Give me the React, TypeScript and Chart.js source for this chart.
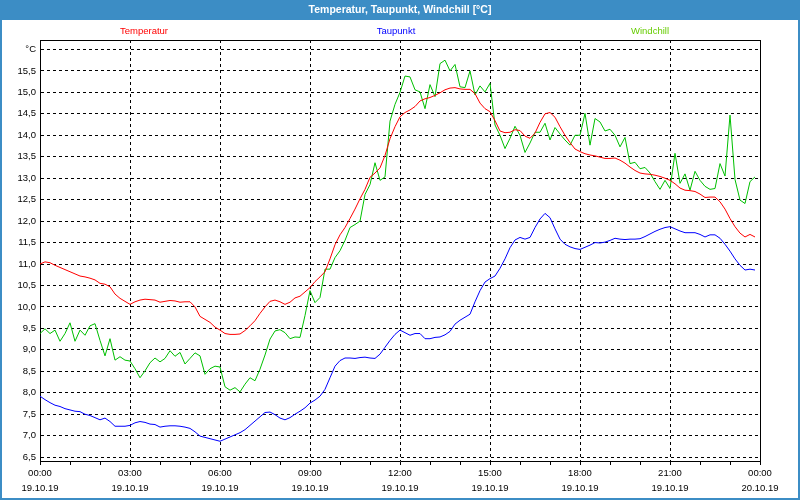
import React, { useEffect, useRef } from 'react';
import { Chart, registerables } from 'chart.js';

Chart.register(...registerables);

const TITLE = 'Temperatur, Taupunkt, Windchill [°C]';
const SERIES_NAMES = ['Temperatur', 'Taupunkt', 'Windchill'];
const SERIES_COLORS = ['#ff0000', '#0000ff', '#00c000'];
const LEGEND_TEXT_COLORS = ['#ff0000', '#0000ff', '#66cc00'];
const LEGEND_X = [144, 396, 650];

const INTERVAL_MIN = 10;

const TEMPERATUR = [
  11.0, 11.05, 11.03, 10.97, 10.92, 10.87, 10.82, 10.77, 10.72, 10.70, 10.67, 10.63, 10.55, 10.53, 10.47, 10.30, 10.20, 10.13, 10.06, 10.12, 10.16, 10.18, 10.17, 10.16, 10.11,
  10.13, 10.15, 10.14, 10.11, 10.12, 10.12, 10.00, 9.78, 9.71, 9.64, 9.53, 9.46, 9.38, 9.36, 9.36, 9.37, 9.45, 9.56, 9.68, 9.85, 10.00, 10.13, 10.16, 10.12,
  10.06, 10.11, 10.21, 10.25, 10.35, 10.45, 10.59, 10.70, 10.82, 11.12, 11.45, 11.68, 11.85, 12.06, 12.28, 12.52, 12.74, 13.02, 13.12, 13.24, 13.53, 13.92, 14.20, 14.43,
  14.53, 14.59, 14.67, 14.80, 14.85, 14.88, 14.93, 14.99, 15.06, 15.10, 15.11, 15.08, 15.07, 15.07, 14.97, 14.75, 14.62, 14.55, 14.34, 14.10, 14.06, 14.07, 14.13, 14.11,
  13.98, 13.93, 14.05, 14.30, 14.50, 14.53, 14.42, 14.20, 14.00, 13.83, 13.68, 13.62, 13.57, 13.54, 13.52, 13.49, 13.46, 13.46, 13.47, 13.42, 13.35, 13.26, 13.18, 13.12,
  13.10, 13.09, 13.07, 13.04, 13.00, 12.95, 12.87, 12.77, 12.72, 12.71, 12.69, 12.63, 12.55, 12.56, 12.56, 12.45, 12.28, 12.06, 11.87, 11.72, 11.63, 11.69, 11.63,
];

const TAUPUNKT = [
  7.92, 7.84, 7.77, 7.71, 7.68, 7.63, 7.60, 7.57, 7.56, 7.50, 7.47, 7.42, 7.37, 7.41, 7.33, 7.22, 7.22, 7.22, 7.24, 7.30, 7.33, 7.31, 7.27, 7.26, 7.20,
  7.22, 7.23, 7.23, 7.22, 7.20, 7.17, 7.09, 6.99, 6.96, 6.93, 6.90, 6.87, 6.92, 6.97, 7.02, 7.07, 7.14, 7.24, 7.34, 7.44, 7.54, 7.55, 7.49, 7.41,
  7.37, 7.42, 7.50, 7.57, 7.65, 7.76, 7.83, 7.92, 8.08, 8.35, 8.62, 8.75, 8.81, 8.81, 8.80, 8.82, 8.83, 8.81, 8.80, 8.90, 9.06, 9.22, 9.36, 9.46,
  9.40, 9.34, 9.38, 9.38, 9.26, 9.26, 9.29, 9.30, 9.35, 9.43, 9.60, 9.69, 9.76, 9.83, 10.12, 10.38, 10.58, 10.66, 10.72, 10.90, 11.12, 11.38, 11.56, 11.62,
  11.58, 11.62, 11.85, 12.05, 12.18, 12.08, 11.82, 11.58, 11.46, 11.40, 11.36, 11.34, 11.39, 11.44, 11.50, 11.49, 11.51, 11.55, 11.60, 11.58, 11.57, 11.58, 11.58, 11.59,
  11.64, 11.70, 11.76, 11.81, 11.85, 11.87, 11.82, 11.77, 11.73, 11.73, 11.73, 11.69, 11.63, 11.68, 11.68, 11.60, 11.46, 11.30, 11.12, 10.97, 10.86, 10.88, 10.86,
];

const WINDCHILL = [
  9.38, 9.49, 9.38, 9.46, 9.20, 9.38, 9.63, 9.20, 9.46, 9.34, 9.56, 9.61, 9.22, 8.86, 9.26, 8.76, 8.84, 8.76, 8.74, 8.56, 8.35, 8.51, 8.70, 8.81, 8.72,
  8.80, 8.98, 8.85, 8.94, 8.67, 8.80, 8.93, 8.86, 8.43, 8.56, 8.62, 8.60, 8.14, 8.06, 8.12, 8.02, 8.20, 8.35, 8.28, 8.55, 8.88, 9.25, 9.44, 9.47,
  9.40, 9.26, 9.30, 9.29, 9.80, 10.38, 10.10, 10.22, 10.88, 10.88, 11.15, 11.31, 11.55, 11.85, 11.92, 12.00, 12.62, 12.85, 13.36, 12.95, 13.03, 14.33, 14.72, 15.00,
  15.38, 15.36, 15.06, 15.01, 14.62, 15.18, 14.90, 15.67, 15.75, 15.50, 15.65, 15.13, 15.11, 15.50, 14.94, 15.15, 15.01, 15.21, 14.24, 14.00, 13.69, 13.93, 14.21, 14.00,
  13.60, 13.82, 14.07, 14.07, 14.28, 13.89, 14.18, 14.03, 13.89, 13.77, 14.00, 14.00, 14.51, 13.77, 14.39, 14.31, 14.10, 14.14, 14.00, 13.73, 13.95, 13.34, 13.37, 13.22,
  13.25, 13.12, 12.92, 12.74, 12.95, 12.76, 13.58, 12.88, 13.10, 12.72, 13.16, 12.95, 12.81, 12.74, 12.76, 13.34, 13.05, 14.47, 12.97, 12.49, 12.41, 12.92, 13.03,
];

const X_TICK_TIMES = ['00:00', '03:00', '06:00', '09:00', '12:00', '15:00', '18:00', '21:00', '00:00'];
const X_TICK_DATES = ['19.10.19', '19.10.19', '19.10.19', '19.10.19', '19.10.19', '19.10.19', '19.10.19', '19.10.19', '20.10.19'];
const X_LABEL_STEP_MIN = 180;
const X_MINOR_STEP_MIN = 60;
const X_MAX_MIN = 1440;

const Y_TICKS = [6.5, 7.0, 7.5, 8.0, 8.5, 9.0, 9.5, 10.0, 10.5, 11.0, 11.5, 12.0, 12.5, 13.0, 13.5, 14.0, 14.5, 15.0, 15.5, 16.0];
const Y_UNIT = '°C';
const Y_MIN = 6.41;
const Y_MAX = 16.22;

const FONT = '"Liberation Sans", Arial, sans-serif';
const TITLE_BG = '#3c8dc5';

const toPoints = (arr: number[]) => arr.map((v, i) => ({ x: i * INTERVAL_MIN, y: v }));

const decorPlugin = {
  id: 'decor',
  beforeDraw(chart: any) {
    const ctx = chart.ctx as CanvasRenderingContext2D;
    const w = chart.width;
    const h = chart.height;
    ctx.save();
    ctx.fillStyle = '#ffffff';
    ctx.fillRect(0, 0, w, h);
    ctx.fillStyle = TITLE_BG;
    ctx.fillRect(0, 0, w, 20);
    ctx.fillRect(0, 20, 2, h - 20);
    ctx.fillRect(w - 2, 20, 2, h - 20);
    ctx.fillRect(0, h - 2, w, 2);
    ctx.fillStyle = '#ffffff';
    ctx.font = `bold 10.5px ${FONT}`;
    ctx.textAlign = 'center';
    ctx.textBaseline = 'middle';
    ctx.fillText(TITLE, w / 2, 10.5);
    ctx.font = `9.5px ${FONT}`;
    SERIES_NAMES.forEach((name, i) => {
      ctx.fillStyle = LEGEND_TEXT_COLORS[i];
      ctx.fillText(name, LEGEND_X[i], 31);
    });
    ctx.restore();
  },
  afterDraw(chart: any) {
    const ctx = chart.ctx as CanvasRenderingContext2D;
    const a = chart.chartArea;
    ctx.save();
    ctx.strokeStyle = '#000000';
    ctx.lineWidth = 1;
    ctx.beginPath();
    ctx.moveTo(Math.round(a.left), Math.round(a.top) + 0.5);
    ctx.lineTo(Math.round(a.right) + 1, Math.round(a.top) + 0.5);
    ctx.moveTo(Math.round(a.right) + 0.5, Math.round(a.top));
    ctx.lineTo(Math.round(a.right) + 0.5, Math.round(a.bottom) + 1);
    ctx.stroke();
    ctx.restore();
  },
};

export default function App() {
  const ref = useRef<HTMLCanvasElement | null>(null);

  useEffect(() => {
    if (!ref.current) return;
    const seriesData = [TEMPERATUR, TAUPUNKT, WINDCHILL];
    const chart = new Chart(ref.current, {
      type: 'line',
      data: {
        datasets: SERIES_NAMES.map((name, i) => ({
          label: name,
          data: toPoints(seriesData[i]),
          borderColor: SERIES_COLORS[i],
          backgroundColor: SERIES_COLORS[i],
          borderWidth: 1,
          pointRadius: 0,
          tension: 0,
          fill: false,
        })),
      },
      options: {
        animation: false,
        responsive: false,
        devicePixelRatio: 1,
        layout: { padding: { top: 40, right: 40, left: 0, bottom: 0 } },
        plugins: {
          legend: { display: false },
          title: { display: false },
          tooltip: { enabled: false },
        },
        scales: {
          x: {
            type: 'linear',
            min: 0,
            max: X_MAX_MIN,
            afterFit: (s: any) => {
              s.height = 39;
            },
            afterBuildTicks: (s: any) => {
              const t = [];
              for (let v = 0; v <= X_MAX_MIN; v += X_MINOR_STEP_MIN) t.push({ value: v });
              s.ticks = t;
            },
            ticks: {
              autoSkip: false,
              maxRotation: 0,
              minRotation: 0,
              padding: 1,
              color: '#000000',
              font: { family: FONT, size: 9.5, lineHeight: 1.6 },
              callback: (value: any) => {
                const v = Number(value);
                if (v % X_LABEL_STEP_MIN !== 0) return '';
                const k = v / X_LABEL_STEP_MIN;
                return [X_TICK_TIMES[k], X_TICK_DATES[k]];
              },
            },
            grid: {
              color: (c: any) => (c.tick && c.tick.value % X_LABEL_STEP_MIN === 0 ? '#000000' : 'rgba(0,0,0,0)'),
              lineWidth: 1,
              tickColor: '#000000',
              tickLength: 4,
              drawTicks: true,
            },
            border: { display: true, color: '#000000', width: 1, dash: [3, 3] },
          },
          y: {
            type: 'linear',
            min: Y_MIN,
            max: Y_MAX,
            afterFit: (s: any) => {
              s.width = 40;
            },
            afterBuildTicks: (s: any) => {
              s.ticks = Y_TICKS.map((v) => ({ value: v }));
            },
            ticks: {
              autoSkip: false,
              padding: 4,
              color: '#000000',
              font: { family: FONT, size: 9.5 },
              callback: (value: any) => {
                const v = Number(value);
                if (Math.abs(v - Y_TICKS[Y_TICKS.length - 1]) < 1e-6) return Y_UNIT;
                return v.toFixed(1).replace('.', ',');
              },
            },
            grid: {
              color: '#000000',
              lineWidth: 1,
              drawTicks: false,
            },
            border: { display: true, color: '#000000', width: 1, dash: [3, 3] },
          },
        },
      },
      plugins: [decorPlugin],
    } as any);
    return () => chart.destroy();
  }, []);

  return (
    <div style={{ position: 'absolute', left: 0, top: 0, width: 800, height: 500 }}>
      <canvas ref={ref} width={800} height={500} />
    </div>
  );
}
